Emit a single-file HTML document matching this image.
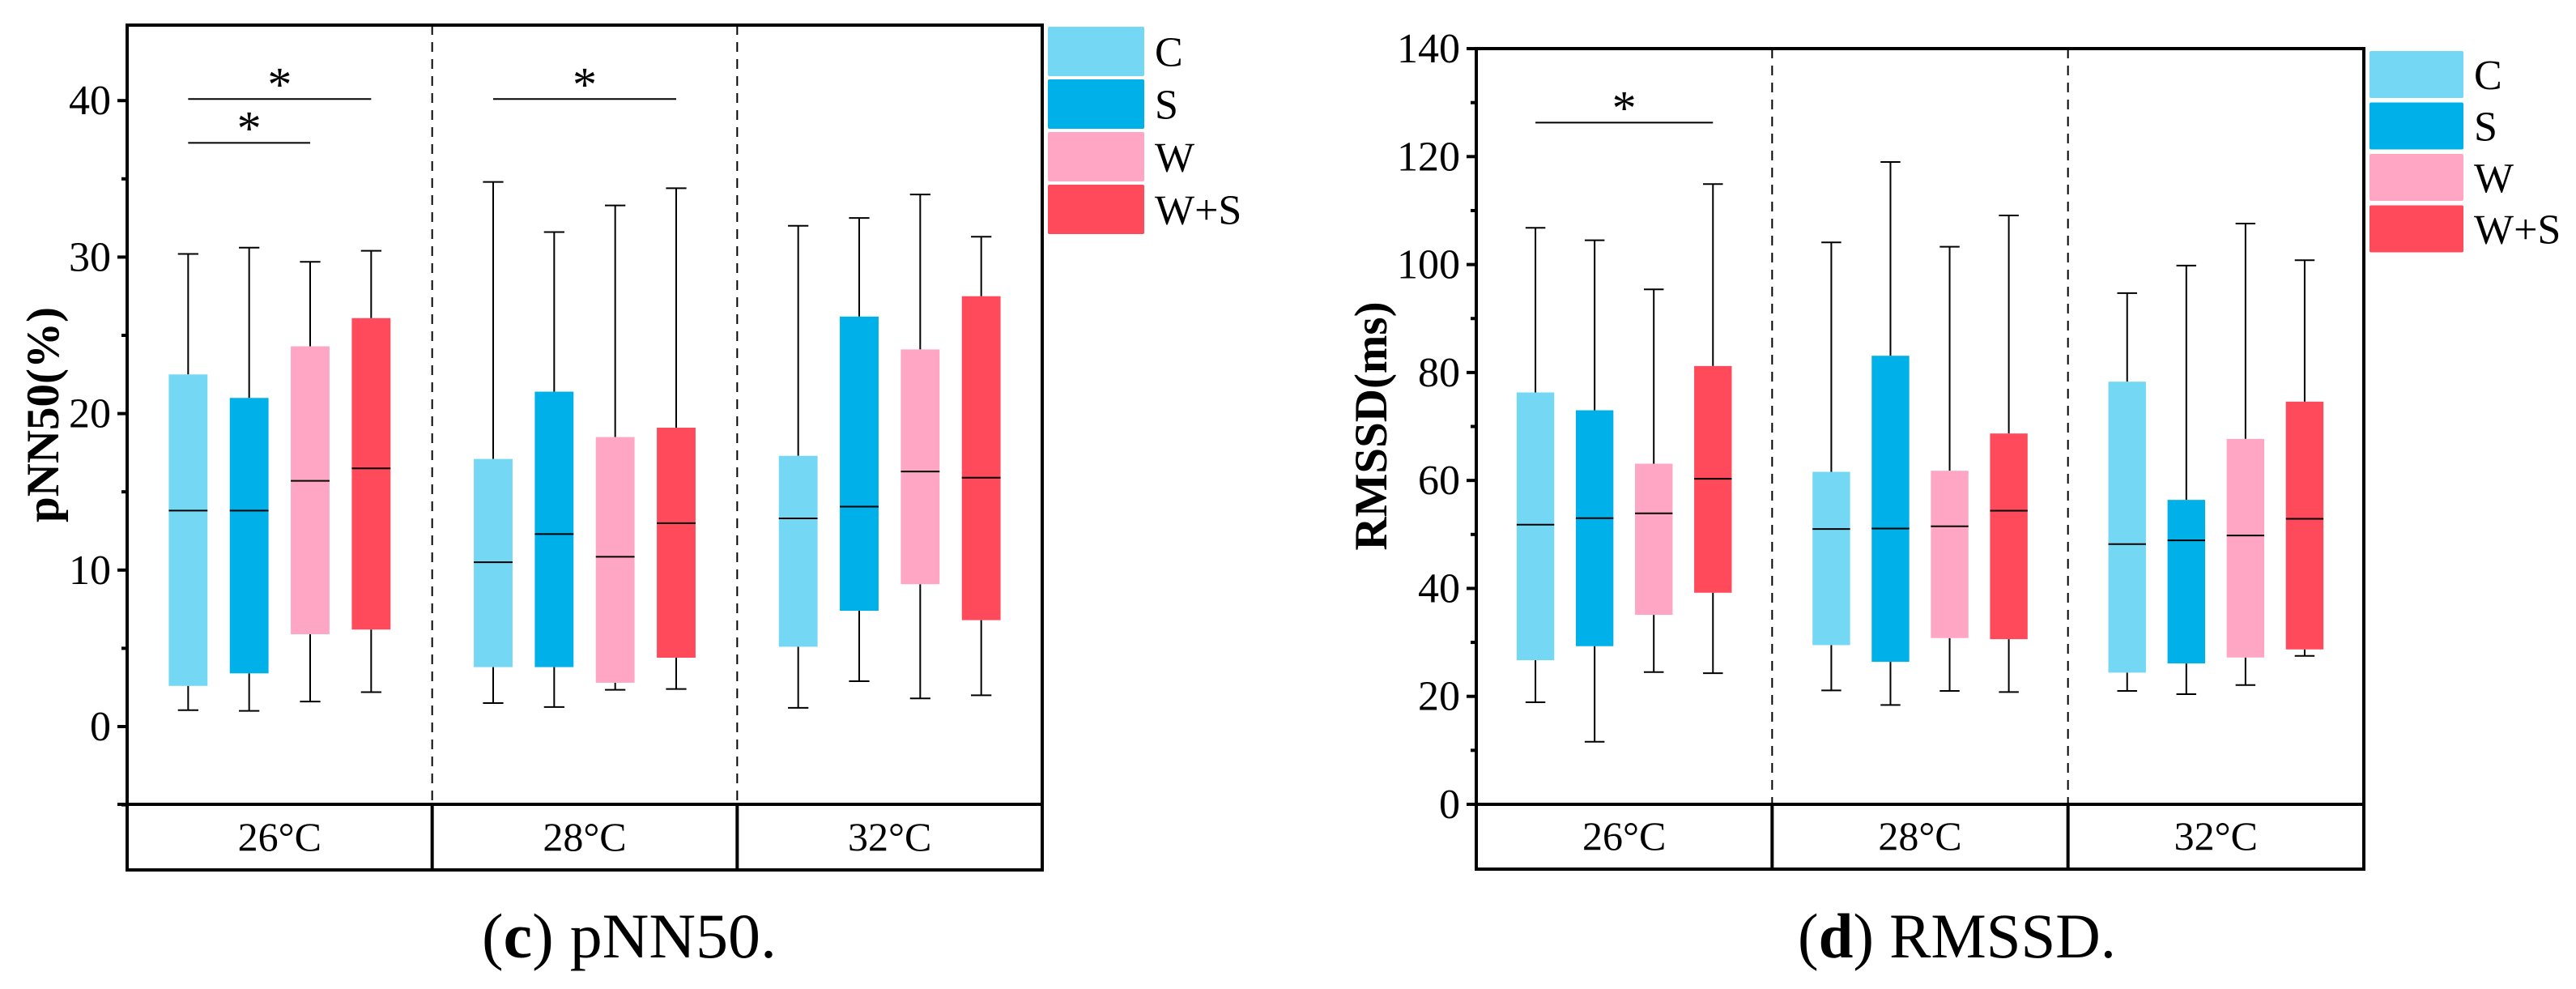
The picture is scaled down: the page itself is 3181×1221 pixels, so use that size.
<!DOCTYPE html>
<html><head><meta charset="utf-8"><style>
html,body{margin:0;padding:0;background:#fff;}
svg{display:block;font-family:"Liberation Serif",serif;}
</style></head><body>
<svg id="fig" width="3181" height="1221" viewBox="0 0 3181 1221" xmlns="http://www.w3.org/2000/svg"></svg>
<script>
// ---- data ----
const groups = ["26°C", "28°C", "32°C"];
const seriesNames = ["C", "S", "W", "W+S"];
const colors = ["#74d8f4", "#00b0e8", "#ffa6c4", "#ff4a5c"];
// pNN50: [group][series] values
const pnnMin = [[1.05,1.0,1.6,2.2],[1.5,1.25,2.35,2.4],[1.2,2.9,1.8,2.0]];
const pnnQ1  = [[2.6,3.4,5.9,6.2],[3.8,3.8,2.8,4.4],[5.1,7.4,9.1,6.8]];
const pnnMed = [[13.8,13.8,15.7,16.5],[10.5,12.3,10.85,13.0],[13.3,14.05,16.3,15.9]];
const pnnQ3  = [[22.5,21.0,24.3,26.1],[17.1,21.4,18.5,19.1],[17.3,26.2,24.1,27.5]];
const pnnMax = [[30.2,30.6,29.7,30.4],[34.8,31.6,33.3,34.4],[32.0,32.5,34.0,31.3]];
const pnnTicks = [0,10,20,30,40];
const pnnMinor = [-5,5,15,25,35];
// significance: [group, fromSeries, toSeries, value]
const pnnSig = [[0,0,3,40.1],[0,0,2,37.3],[1,0,3,40.1]];
// RMSSD
const rmMin = [[18.9,11.6,24.5,24.3],[21.1,18.4,21.0,20.8],[21.0,20.4,22.1,27.5]];
const rmQ1  = [[26.7,29.3,35.1,39.2],[29.5,26.4,30.8,30.6],[24.4,26.1,27.2,28.7]];
const rmMed = [[51.8,53.0,53.9,60.3],[51.0,51.1,51.5,54.4],[48.2,48.9,49.8,52.9]];
const rmQ3  = [[76.3,73.0,63.1,81.2],[61.6,83.1,61.8,68.7],[78.3,56.4,67.7,74.6]];
const rmMax = [[106.8,104.5,95.4,114.9],[104.1,119.0,103.3,109.1],[94.7,99.8,107.6,100.8]];
const rmTicks = [0,20,40,60,80,100,120,140];
const rmMinor = [10,30,50,70,90,110,130];
const rmSig = [[0,0,3,126.3]];

const NS = "http://www.w3.org/2000/svg";
const svg = document.getElementById("fig");
function mk(tag, attrs, parent) {
  const e = document.createElementNS(NS, tag);
  for (const k in attrs) e.setAttribute(k, attrs[k]);
  (parent || svg).appendChild(e);
  return e;
}

function drawPanel(cfg) {
  const g = mk("g", {});
  
  
  const y = v => cfg.y0 - (v - 0) * cfg.ppu;
  const third = (cfg.x1 - cfg.x0) / 3;
  const gx = (gi, si) => cfg.x0 + third * (gi + 0.5) + third * [-0.3, -0.1, 0.1, 0.3][si];
  const bw = third * 0.127, cap = third * 0.067;
  for (let gi = 0; gi < 3; gi++) {
    for (let si = 0; si < 4; si++) {
      const cx = gx(gi, si);
      const bg = mk("g", {}, g);
      
      
      const mn = cfg.min[gi][si], q1 = cfg.q1[gi][si], md = cfg.med[gi][si], q3 = cfg.q3[gi][si], mx = cfg.max[gi][si];
      mk("line", {x1:cx, x2:cx, y1:y(mx), y2:y(q3), stroke:"#000", "stroke-width":2}, bg);
      mk("line", {x1:cx, x2:cx, y1:y(q1), y2:y(mn), stroke:"#000", "stroke-width":2}, bg);
      mk("line", {x1:cx-cap/2, x2:cx+cap/2, y1:y(mx), y2:y(mx), stroke:"#000", "stroke-width":2}, bg);
      mk("line", {x1:cx-cap/2, x2:cx+cap/2, y1:y(mn), y2:y(mn), stroke:"#000", "stroke-width":2}, bg);
      mk("rect", {x:cx-bw/2, y:y(q3), width:bw, height:y(q1)-y(q3), fill:colors[si]}, bg);
      mk("line", {x1:cx-bw/2, x2:cx+bw/2, y1:y(md), y2:y(md), stroke:"#000", "stroke-width":2}, bg);
    }
  }
  cfg.sig.forEach(s => {
    const xa = gx(s[0], s[1]), xb = gx(s[0], s[2]), yy = y(s[3]);
    const l = mk("line", {x1:xa, x2:xb, y1:yy, y2:yy, stroke:"#000", "stroke-width":2}, g);
    
    
    const t = mk("text", {x:(xa+xb)/2, y:yy+2, "font-size":60, "text-anchor":"middle"}, g);
    t.textContent = "*";
    
    
  });
  const bandTop = cfg.bandTop, bandBot = cfg.bandBot;
  mk("rect", {x:cfg.x0, y:cfg.top, width:cfg.x1-cfg.x0, height:bandBot-cfg.top, fill:"none", stroke:"#000", "stroke-width":4}, g);
  mk("line", {x1:cfg.x0-12, x2:cfg.x1, y1:bandTop, y2:bandTop, stroke:"#000", "stroke-width":4}, g);
  for (let k = 1; k < 3; k++) {
    const dx = cfg.x0 + third * k;
    mk("line", {x1:dx, x2:dx, y1:cfg.top, y2:bandTop, stroke:"#000", "stroke-width":2, "stroke-dasharray":"12,9"}, g);
    mk("line", {x1:dx, x2:dx, y1:bandTop, y2:bandBot, stroke:"#000", "stroke-width":4}, g);
  }
  groups.forEach((lab, gi) => {
    const t = mk("text", {x:cfg.x0 + third*(gi+0.5), y:bandBot-24, "font-size":50, "text-anchor":"middle"}, g);
    t.textContent = lab;
    
    
  });
  cfg.ticks.forEach(v => {
    mk("line", {x1:cfg.x0-12, x2:cfg.x0, y1:y(v), y2:y(v), stroke:"#000", "stroke-width":4}, g);
    const t = mk("text", {x:cfg.x0-20, y:y(v)+17, "font-size":52, "text-anchor":"end"}, g);
    t.textContent = v;
    
    
  });
  cfg.minor.forEach(v => {
    mk("line", {x1:cfg.x0-7, x2:cfg.x0, y1:y(v), y2:y(v), stroke:"#000", "stroke-width":4}, g);
  });
  const yt = mk("text", {x:cfg.ytx, y:cfg.yty, "font-size":57, "font-weight":"bold", "text-anchor":"middle", transform:`rotate(-90 ${cfg.ytx} ${cfg.yty})`}, g);
  yt.textContent = cfg.ytitle;
  
  
  seriesNames.forEach((n, si) => {
    const ly = cfg.legY + si * cfg.legStep;
    const r = mk("rect", {x:cfg.legX, y:ly, width:cfg.legW, height:cfg.legH, fill:colors[si], rx:2}, g);
    
    
    const t = mk("text", {x:cfg.legX+cfg.legW+13, y:ly+cfg.legH/2+18, "font-size":52}, g);
    t.textContent = n;
    
    
  });
  const cap2 = mk("text", {x:cfg.capX, y:1182, "font-size":78}, g);
  cap2.setAttribute('textLength', cfg.capW);
  cap2.setAttribute('lengthAdjust', 'spacingAndGlyphs');
  
  
  const p1 = mk("tspan", {}, cap2); p1.textContent = "(";
  const p2 = mk("tspan", {"font-weight":"bold"}, cap2); p2.textContent = cfg.letter;
  const p3 = mk("tspan", {}, cap2); p3.textContent = ") " + cfg.caption;
}

drawPanel({name:"pnn50-panel", x0:157, x1:1287, top:31, y0:897, ppu:19.32, bandTop:993, bandBot:1074,
  min:pnnMin, q1:pnnQ1, med:pnnMed, q3:pnnQ3, max:pnnMax, sig:pnnSig, ticks:pnnTicks, minor:pnnMinor,
  ytitle:"pNN50(%)", ytx:72, yty:512, legX:1294, legY:33, legStep:65, legW:119, legH:61,
  capX:595, capW:364, letter:"c", caption:"pNN50."});
drawPanel({name:"rmssd-panel", x0:1823, x1:2919, top:60, y0:993, ppu:6.664, bandTop:993, bandBot:1073,
  min:rmMin, q1:rmQ1, med:rmMed, q3:rmQ3, max:rmMax, sig:rmSig, ticks:rmTicks, minor:rmMinor,
  ytitle:"RMSSD(ms)", ytx:1712, yty:526, legX:2926, legY:63, legStep:63.5, legW:116, legH:58,
  capX:2220, capW:393, letter:"d", caption:"RMSSD."});
</script>
</body></html>
